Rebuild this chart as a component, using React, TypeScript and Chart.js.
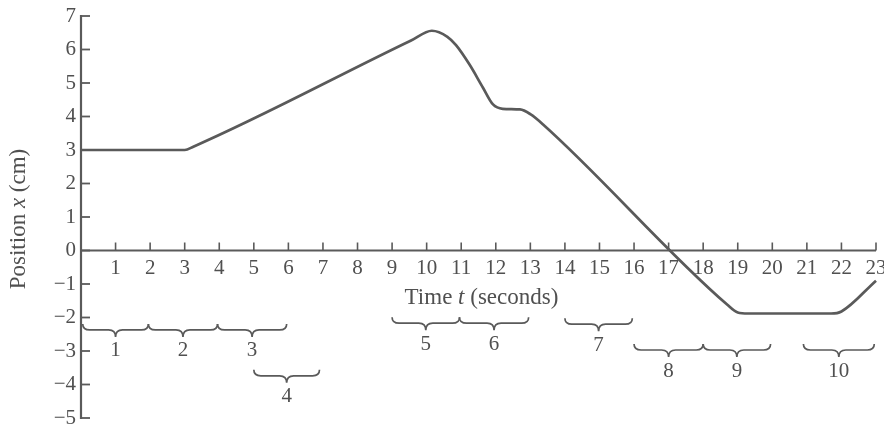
import React, { useEffect, useRef } from "react";
import { Chart, registerables } from "chart.js";

Chart.register(...registerables);

// Curve: time t (s) and position x (cm)
const timeValues = [0, 3, 3.25, 9.55, 10.15, 10.6, 10.85, 11.24, 11.63, 11.92, 12.2, 12.7, 13.0, 13.36, 18.7, 19.0, 19.3, 21.7, 22.0, 23];
const positionValues = [3, 3, 3.1, 6.27, 6.56, 6.38, 6.13, 5.55, 4.86, 4.36, 4.23, 4.21, 4.07, 3.77, -1.62, -1.85, -1.88, -1.88, -1.82, -0.9];

// Axis ranges
const xMin = 0;
const xMax = 23;
const yMin = -5;
const yMax = 7;

// Interval braces (time intervals) and the level (cm) they sit at
const braceLabels = ["1", "2", "3", "4", "5", "6", "7", "8", "9", "10"];
const braceStarts = [0.05, 1.95, 3.95, 5.0, 9.0, 10.95, 14.0, 16.0, 18.0, 20.9];
const braceEnds = [1.95, 3.95, 5.95, 6.9, 10.95, 12.95, 15.95, 18.0, 19.95, 22.95];
const braceLevels = [-2.37, -2.37, -2.37, -3.74, -2.17, -2.17, -2.2, -2.97, -2.97, -2.97];

const xTitleParts = [
  { text: "Time ", italic: false },
  { text: "t", italic: true },
  { text: " (seconds)", italic: false },
];
const yTitleParts = [
  { text: "Position ", italic: false },
  { text: "x", italic: true },
  { text: " (cm)", italic: false },
];

const INK = "#505050";
const LINE = "#5a5a5a";
const FAMILY = "'Liberation Serif', 'Times New Roman', serif";

function drawParts(ctx: CanvasRenderingContext2D, parts: { text: string; italic: boolean }[], size: number, cx: number, cy: number) {
  const fontOf = (it: boolean) => `${it ? "italic " : ""}${size}px ${FAMILY}`;
  let total = 0;
  const widths = parts.map((p) => {
    ctx.font = fontOf(p.italic);
    const w = ctx.measureText(p.text).width;
    total += w;
    return w;
  });
  let x = cx - total / 2;
  ctx.textAlign = "left";
  ctx.textBaseline = "alphabetic";
  parts.forEach((p, i) => {
    ctx.font = fontOf(p.italic);
    ctx.fillText(p.text, x, cy);
    x += widths[i];
  });
}

function drawBrace(ctx: CanvasRenderingContext2D, x1: number, x2: number, y: number) {
  const xm = (x1 + x2) / 2;
  const r = 7;
  ctx.beginPath();
  ctx.moveTo(x1, y - 6);
  ctx.quadraticCurveTo(x1, y, x1 + r, y);
  ctx.lineTo(xm - r, y);
  ctx.quadraticCurveTo(xm, y, xm, y + 7);
  ctx.quadraticCurveTo(xm, y, xm + r, y);
  ctx.lineTo(x2 - r, y);
  ctx.quadraticCurveTo(x2, y, x2, y - 6);
  ctx.stroke();
}

const decorPlugin = {
  id: "decor",
  afterDraw(chart: any) {
    const ctx: CanvasRenderingContext2D = chart.ctx;
    const xs = chart.scales.x;
    const ys = chart.scales.y;
    const ax = xs.getPixelForValue(xMin);
    const ay = ys.getPixelForValue(0);
    ctx.save();
    ctx.strokeStyle = LINE;
    ctx.fillStyle = INK;
    ctx.lineCap = "butt";

    // y axis line + inward ticks
    ctx.lineWidth = 2.2;
    ctx.beginPath();
    ctx.moveTo(ax, ys.getPixelForValue(yMax) - 1);
    ctx.lineTo(ax, ys.getPixelForValue(yMin) + 1);
    ctx.stroke();
    ctx.lineWidth = 1.8;
    ys.ticks.forEach((t: any) => {
      const py = ys.getPixelForValue(t.value);
      ctx.beginPath();
      ctx.moveTo(ax, py);
      ctx.lineTo(ax + 9, py);
      ctx.stroke();
    });

    // x axis line at 0 + upward ticks
    ctx.lineWidth = 2.2;
    ctx.beginPath();
    ctx.moveTo(ax, ay);
    ctx.lineTo(xs.getPixelForValue(xMax), ay);
    ctx.stroke();
    ctx.lineWidth = 1.6;
    xs.ticks.forEach((t: any) => {
      if (t.value === xMin) return;
      const px = xs.getPixelForValue(t.value);
      ctx.beginPath();
      ctx.moveTo(px, ay);
      ctx.lineTo(px, ay - 8);
      ctx.stroke();
    });

    // braces
    ctx.lineWidth = 1.7;
    braceLabels.forEach((lab, i) => {
      const x1 = xs.getPixelForValue(braceStarts[i]);
      const x2 = xs.getPixelForValue(braceEnds[i]);
      const y = ys.getPixelForValue(braceLevels[i]);
      drawBrace(ctx, x1, x2, y);
      ctx.font = `21px ${FAMILY}`;
      ctx.textAlign = "center";
      ctx.textBaseline = "middle";
      ctx.fillText(lab, (x1 + x2) / 2, y + 21);
    });

    // titles
    drawParts(ctx, xTitleParts, 23, (xs.left + xs.right) / 2 + 3, ay + 53);
    ctx.save();
    ctx.translate(25, (ys.top + ys.bottom) / 2 + 2);
    ctx.rotate(-Math.PI / 2);
    drawParts(ctx, yTitleParts, 23, 0, 0);
    ctx.restore();

    ctx.restore();
  },
};

export default function App() {
  const ref = useRef<HTMLCanvasElement | null>(null);
  useEffect(() => {
    if (!ref.current) return;
    const chart = new Chart(ref.current, {
      type: "line",
      data: {
        datasets: [
          {
            data: timeValues.map((t, i) => ({ x: t, y: positionValues[i] })),
            borderColor: LINE,
            borderWidth: 2.7,
            pointRadius: 0,
            cubicInterpolationMode: "monotone",
            fill: false,
            clip: false as any,
          },
        ],
      },
      options: {
        animation: false,
        responsive: false,
        events: [],
        layout: { padding: { top: 16, bottom: 8, right: 8, left: 0 } },
        plugins: { legend: { display: false }, tooltip: { enabled: false }, title: { display: false } },
        scales: {
          x: {
            type: "linear",
            min: xMin,
            max: xMax,
            position: { y: 0 } as any,
            grid: { display: false, drawTicks: false },
            border: { display: false },
            ticks: {
              stepSize: 1,
              autoSkip: false,
              maxRotation: 0,
              minRotation: 0,
              padding: 5,
              color: INK,
              font: { family: FAMILY, size: 21 },
              callback: (v: any) => (v === xMin ? "" : String(v)),
            },
            afterFit: (s: any) => {
              s.paddingLeft = 0;
              s.paddingRight = 0;
            },
          },
          y: {
            type: "linear",
            min: yMin,
            max: yMax,
            grid: { display: false, drawTicks: false },
            border: { display: false },
            ticks: {
              stepSize: 1,
              autoSkip: false,
              padding: 5,
              color: INK,
              font: { family: FAMILY, size: 21 },
              callback: (v: any) => (v < 0 ? "\u2212" + Math.abs(v) : String(v)),
            },
            afterFit: (s: any) => {
              s.width = 81;
              s.paddingTop = 0;
              s.paddingBottom = 0;
            },
          },
        },
      },
      plugins: [decorPlugin],
    });
    return () => chart.destroy();
  }, []);
  return (
    <div style={{ position: "absolute", left: 0, top: 0, width: 884, height: 426, background: "#fff" }}>
      <canvas ref={ref} width={884} height={426} />
    </div>
  );
}
